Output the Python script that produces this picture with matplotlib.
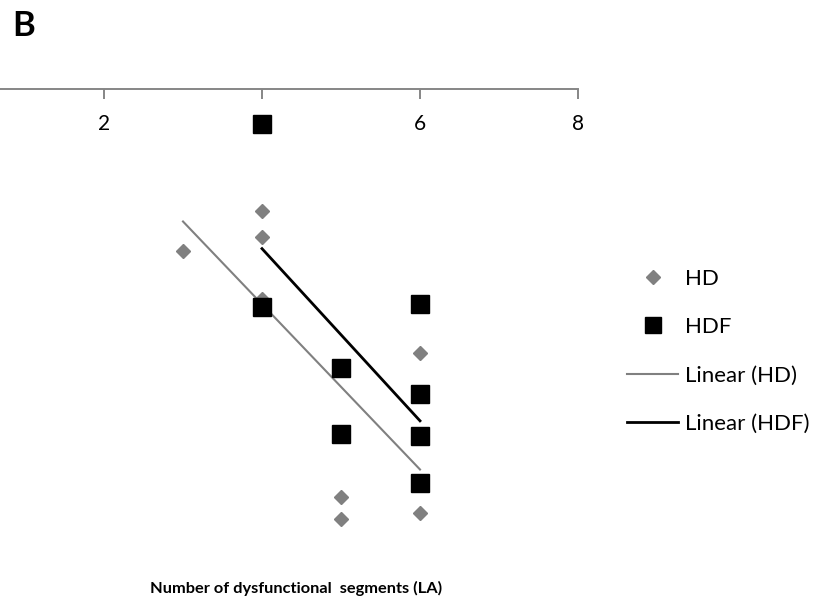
import numpy as np
import matplotlib
matplotlib.use("Agg")
from matplotlib import pyplot as plt

plt.rcParams['font.family'] = ['Lato', 'DejaVu Sans']

# data (y below zero, x axis sits at y = 0)
hd_x = [3, 4, 4, 4, 5, 5, 6, 6, 6]
hd_y = [-16.2, -12.2, -14.8, -21.0, -40.8, -43.0, -26.4, -42.4, -34.7]
hdf_x = [4, 4, 5, 5, 6, 6, 6, 6]
hdf_y = [-3.5, -21.8, -27.9, -34.5, -21.5, -30.5, -34.7, -39.4]
x_ticks = [2, 4, 6, 8]
x_label = "Number of dysfunctional  segments (LA)"

gray = "#808080"

fig = plt.figure(figsize=(8.21, 6.10), dpi=100)
ax = fig.add_axes([-54 / 821, 1 - 545 / 610, 632 / 821, 456 / 610])
ax.set_xlim(0, 8)
ax.set_ylim(-45.6, 0)

# trend lines
def trend(xs, ys):
    k, b = np.polyfit(xs, ys, 1)
    xx = np.array([min(xs), max(xs)])
    return xx, k * xx + b

tx, ty = trend(hd_x, hd_y)
ax.plot(tx, ty, color=gray, lw=1.5, label="Linear (HD)", zorder=3)
tx, ty = trend(hdf_x, hdf_y)
ax.plot(tx, ty, color="black", lw=2, label="Linear (HDF)", zorder=3)

ax.plot(hd_x, hd_y, linestyle="none", marker="D", ms=7.6, color=gray,
        mec=gray, label="HD", zorder=8, clip_on=False)
ax.plot(hdf_x, hdf_y, linestyle="none", marker="s", ms=13, color="black",
        label="HDF", zorder=9, clip_on=False)

for s in ["top", "left", "right"]:
    ax.spines[s].set_visible(False)
ax.spines["bottom"].set_position(("data", 0))
ax.spines["bottom"].set_color("#868686")
ax.spines["bottom"].set_linewidth(1.4)
ax.set_xticks(x_ticks)
ax.tick_params(axis="x", direction="out", length=7, width=1.4, color="#868686",
               labelsize=15, pad=11)
ax.set_yticks([])
ax.xaxis.set_zorder(2)

handles, labels = ax.get_legend_handles_labels()
order = [2, 3, 0, 1]
fig.legend([handles[i] for i in order], [labels[i] for i in order],
           loc="upper left", bbox_to_anchor=(627 / 821, 1 - 269 / 610),
           frameon=False, fontsize=16, handlelength=2.3, handletextpad=0.3,
           labelspacing=1.27, borderpad=0, borderaxespad=0, markerscale=0.9)

fig.text(12 / 821, 1 - 36 / 610, "B", fontsize=25, fontweight="bold",
         ha="left", va="baseline")
fig.text(150 / 821, 1 - 593 / 610, x_label, fontsize=11.8, fontweight="bold",
         ha="left", va="baseline")

fig.savefig("out.png", dpi=100)
